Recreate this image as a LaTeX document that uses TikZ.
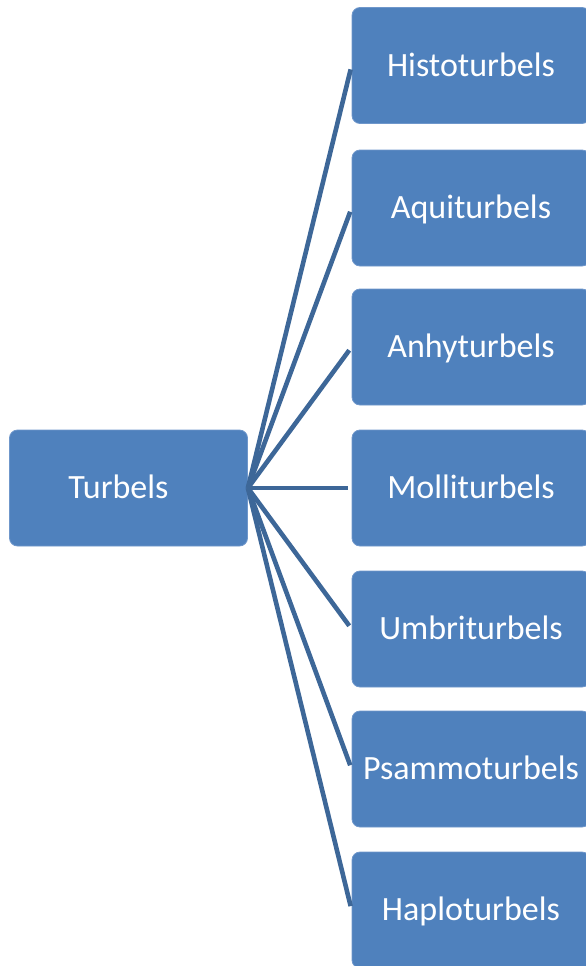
\documentclass[tikz,border=0pt]{standalone}
\usepackage{fontspec}
\setmainfont{Carlito}
\definecolor{boxblue}{HTML}{4F81BD}
\definecolor{boxedge}{HTML}{6F97CB}
\definecolor{linkblue}{HTML}{3D6798}
\begin{document}
\begin{tikzpicture}[x=1pt,y=-1pt,
  box/.style={draw=boxedge, line width=0.8pt, fill=boxblue, rounded corners=8pt,
    minimum width=238pt, minimum height=116pt, inner sep=0pt},
  lbl/.style={text=white, font=\fontsize{34}{40}\selectfont, text height=22pt, text depth=6.2pt, inner sep=0pt},
  link/.style={draw=linkblue, line width=4.6pt}]
\useasboundingbox (0,0) rectangle (586,966);
\node[box] (root) at (128.5,488) {};
\node[lbl] (rootlbl) at (118.5,491) {Turbels};
\foreach \n/\t/\y in {c1/Histoturbels/65.5, c2/Aquiturbels/208, c3/Anhyturbels/347,
  c4/Molliturbels/488, c5/Umbriturbels/629, c6/Psammoturbels/769, c7/Haploturbels/910}{
  \node[box] (\n) at (471,\y) {};
  \node[lbl] (\n lbl) at (471,\y+3) {\t};
  \draw[link, shorten >=4pt] (root.east) -- (\n.west);
}
\end{tikzpicture}
\end{document}
